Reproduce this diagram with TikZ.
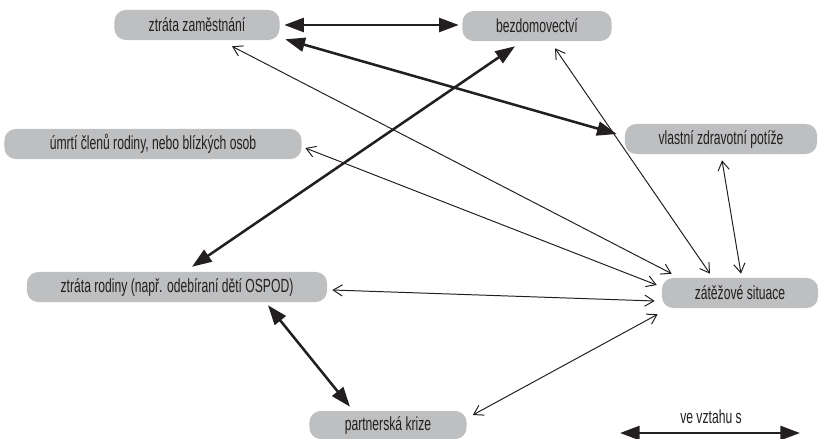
\documentclass[tikz,border=0pt]{standalone}
\usepackage{fontspec}
\setmainfont[FakeStretch=0.64]{Liberation Sans}
\usetikzlibrary{arrows.meta, calc}
\definecolor{uzel}{RGB}{190,191,193}
\definecolor{pismo}{RGB}{35,31,32}

\begin{document}
\begin{tikzpicture}[x=0.025cm, y=-0.025cm,
    box/.style={fill=uzel, rounded corners=0.28cm, minimum height=0.75cm, inner sep=0pt,
      text=pismo, font=\fontsize{13.5}{15}\selectfont},
    vztah/.style={draw=pismo, line width=1.8pt,
      {Triangle[length=14pt,width=10pt]}-{Triangle[length=14pt,width=10pt]}},
    vliv/.style={draw=pismo, line width=0.7pt,
      {Straight Barb[length=6.5pt,width=8pt]}-{Straight Barb[length=6.5pt,width=8pt]}}]
  \useasboundingbox (0,0) rectangle (820,439);
  % Uzly
  \node[box, minimum width=4.125cm] (zam) at (197,25) {ztráta zaměstnání};
  \node[box, minimum width=3.725cm] (bez) at (537,26) {bezdomovectví};
  \node[box, minimum width=7.425cm] (umr) at (153,144) {úmrtí členů rodiny, nebo blízkých osob};
  \node[box, minimum width=4.8cm] (vla) at (721,139) {vlastní zdravotní potíže};
  \node[box, minimum width=7.5cm] (rod) at (177,287) {ztráta rodiny (např. odebíraní dětí OSPOD)};
  \node[box, minimum width=3.9cm] (zat) at (740,293) {zátěžové situace};
  \node[box, minimum width=3.925cm, minimum height=0.7cm] (par) at (388,425) {partnerská krize};
  % Silné vazby
  \draw[vztah] ([shift={(4.5,0)}]zam.east) -- ([shift={(-3.5,-1)}]bez.west);
  \draw[vztah] ([shift={(5.5,-1)}]zam.south east) -- ([shift={(-8,-5)}]vla.west);
  \draw[vztah] ([shift={(-22,5)}]bez.south) -- ([shift={(15,-5)}]rod.north);
  \draw[vztah] ([shift={(91,3)}]rod.south) -- ([shift={(-38,-4)}]par.north);
  % Vazby k zátěžovým situacím
  \draw[vliv] ([shift={(35,6)}]zam.south) -- ([shift={(10,-4)}]zat.north west);
  \draw[vliv] ([shift={(18,7)}]bez.south) -- ([shift={(-30,-4)}]zat.north);
  \draw[vliv] ([shift={(1,6)}]vla.south) -- ([shift={(1,-4)}]zat.north);
  \draw[vliv] ([shift={(3.5,4)}]umr.east) -- ([shift={(-5,-8)}]zat.west);
  \draw[vliv] ([shift={(5,3)}]rod.east) -- ([shift={(-7,8)}]zat.west);
  \draw[vliv] ([shift={(6,-10)}]par.east) -- ([shift={(-4,6)}]zat.south west);
  % Legenda
  \node[text=pismo, font=\fontsize{13.5}{15}\selectfont] (leg) at (711,417) {ve vztahu s};
  \coordinate (l1) at (620,433);
  \coordinate (l2) at (800,433);
  \draw[vztah] (l1) -- (l2);
\end{tikzpicture}
\end{document}
